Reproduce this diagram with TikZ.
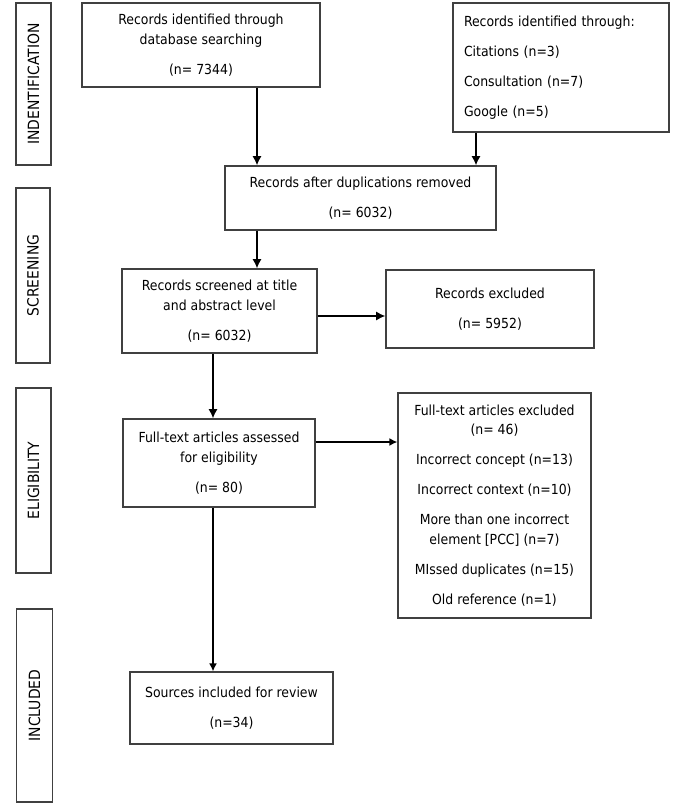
\documentclass[tikz,border=0pt]{standalone}
\usepackage{fontspec}
\setmainfont{DejaVu Sans Condensed}
\usepackage{tikz}
\usetikzlibrary{positioning}
\usetikzlibrary{calc,arrows.meta}

\begin{document}
\begin{tikzpicture}[x=0.75pt, y=-0.75pt,
    font=\fontsize{10.4}{14.5}\selectfont,
    box/.style={draw=black!75, line width=0.9pt, align=center, inner sep=2pt},
    size/.style 2 args={minimum width=#1*0.75pt, minimum height=#2*0.75pt},
    phase/.style={draw=black!75, line width=0.9pt, rotate=90, inner sep=0pt,
      font=\fontsize{11.6}{12}\selectfont},
    flow/.style={-{Latex[length=7pt,width=7pt]}, line width=2.2pt},
    thinflow/.style={-{Latex[length=6pt,width=6pt]}, line width=1.3pt}]

  \useasboundingbox (0,0) rectangle (672,806);

  % phases down the left side
  \node[phase,size={162}{35}] (P1) at (33.5,84) {INDENTIFICATION};
  \node[phase,size={175}{34}] (P2) at (33,275.5) {SCREENING};
  \node[phase,size={185}{35}] (P3) at (33.5,480.5) {ELIGIBILITY};
  \node[phase,size={193}{36}] (P4) at (34.5,705.5) {INCLUDED};

  \node[box,size={238}{84}] (dbsearch) at (201,45)
    {Records identified through\\database searching\\[8pt](n= 7344)};
  \node[box,size={216}{129}, align=left, text width=194*0.75pt, inner xsep=11*0.75pt]
    (othersrc) at (561,67.5)
    {Records identified through:\\[8pt]Citations (n=3)\\[8pt]Consultation (n=7)\\[8pt]Google (n=5)};
  \node[box,size={271}{64}] (dedup) at (360.5,198)
    {Records after duplications removed\\[8pt](n= 6032)};
  \node[box,size={195}{84}] (screened) at (219.5,311)
    {Records screened at title\\and abstract level\\[8pt](n= 6032)};
  \node[box,size={208}{78}] (recexcl) at (490,309)
    {Records excluded\\[8pt](n= 5952)};
  \node[box,size={192}{88}] (fulltext) at (219,463)
    {Full-text articles assessed\\for eligibility\\[8pt](n= 80)};
  \node[box,size={193}{225}] (ftexcl) at (494.5,505.5)
    {Full-text articles excluded\\(n= 46)\\[8pt]Incorrect concept (n=13)\\[8pt]Incorrect context (n=10)\\[8pt]More than one incorrect\\element [PCC] (n=7)\\[8pt]MIssed duplicates (n=15)\\[8pt]Old reference (n=1)};
  \node[box,size={203}{72}] (included) at (231.5,708)
    {Sources included for review\\[8pt](n=34)};

  % where the arrows run
  \coordinate (col1) at (257,0);
  \coordinate (col2) at (476,0);
  \coordinate (col3) at (213,0);
  \coordinate (row1) at (0,316);
  \coordinate (row2) at (0,442);

  \draw[flow] (dbsearch.south -| col1) -- (dedup.north -| col1);
  \draw[flow] (othersrc.south -| col2) -- (dedup.north -| col2);
  \draw[flow] (dedup.south -| col1) -- (screened.north -| col1);
  \draw[flow] (screened.east |- row1) -- (recexcl.west |- row1);
  \draw[flow] (screened.south -| col3) -- (fulltext.north -| col3);
  \draw[thinflow] (fulltext.east |- row2) -- (ftexcl.west |- row2);
  \draw[thinflow] (fulltext.south -| col3) -- (included.north -| col3);
\end{tikzpicture}
\end{document}
